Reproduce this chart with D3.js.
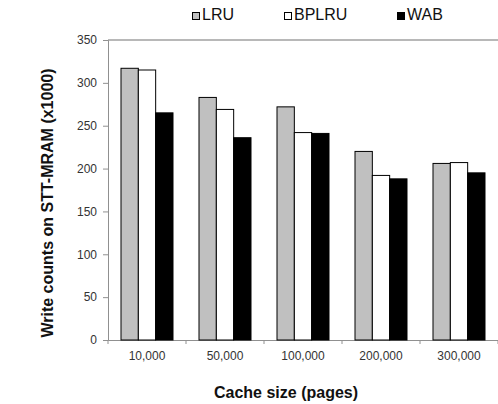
<!DOCTYPE html>
<html>
<head>
<meta charset="utf-8">
<script src="https://d3js.org/d3.v7.min.js"></script>
<style>
  body { margin: 0; background: #fff; }
  svg { font-family: "Liberation Sans", Arial, sans-serif; }
</style>
</head>
<body>
<svg width="498" height="404"></svg>
<script>
var categories = ["10,000", "50,000", "100,000", "200,000", "300,000"]
var seriesNames = ["LRU", "BPLRU", "WAB"]
var lruValues = [317, 283, 272, 220, 206]
var bplruValues = [315, 269, 242, 192, 207]
var wabValues = [265, 236, 241, 188, 195]
var yTicks = [0, 50, 100, 150, 200, 250, 300, 350]
var colors = {LRU: "#c0c0c0", BPLRU: "#ffffff", WAB: "#000000"}

function main(){
	var margin = {top: 40, right: 0, bottom: 64, left: 108};
	var svg = d3.select("svg");
	var width = svg.attr("width") - margin.left - margin.right;
	var height = svg.attr("height") - margin.top - margin.bottom;

	var canvas = svg.append("g")
	.attr("transform", "translate(" + margin.left + "," + margin.top + ")");

	var table = categories.map(function(c, i){
		return {cat: c, LRU: lruValues[i], BPLRU: bplruValues[i], WAB: wabValues[i]}
	});

	// Scales
	var x0 = d3.scaleBand().domain(categories).range([0, width]).padding(0);
	var x1 = d3.scaleBand().domain(seriesNames).range([0, x0.bandwidth()])
	.paddingInner(0).paddingOuter(0.75);
	var yScale = d3.scaleLinear().domain([0, 350]).range([height, 0]);

	// Top border line of plot area
	canvas.append("line")
	.attr("x1", 0).attr("x2", width).attr("y1", 0).attr("y2", 0)
	.attr("stroke", "#a0a0a0").attr("stroke-width", 1.5);

	// Y axis
	var yAxis = d3.axisLeft(yScale).tickValues(yTicks).tickSize(5).tickPadding(6);
	var gy = canvas.append("g").call(yAxis);
	gy.select(".domain").attr("stroke", "#909090");
	gy.selectAll(".tick line").attr("stroke", "#909090");
	gy.selectAll(".tick text").attr("font-size", 12).attr("fill", "#333")
	.attr("font-family", "Liberation Sans, Arial, sans-serif");

	// X axis
	var xAxis = d3.axisBottom(x0).tickSize(0).tickPadding(11);
	var gx = canvas.append("g").attr("transform", "translate(0," + height + ")").call(xAxis);
	gx.select(".domain").attr("stroke", "#909090");
	gx.selectAll(".tick text").attr("font-size", 12).attr("fill", "#333")
	.attr("font-family", "Liberation Sans, Arial, sans-serif");

	// category boundary ticks
	var bounds = categories.map(function(c){ return x0(c) }).concat([width]);
	gx.selectAll(".bound").data(bounds).enter().append("line")
	.attr("x1", d => d).attr("x2", d => d)
	.attr("y1", 0).attr("y2", 4)
	.attr("stroke", "#909090");

	// Bars
	var groups = canvas.selectAll(".grp").data(table).enter().append("g")
	.attr("transform", d => "translate(" + x0(d.cat) + ",0)");

	groups.selectAll("rect")
	.data(d => seriesNames.map(function(s){ return {key: s, value: d[s]} }))
	.enter().append("rect")
	.attr("x", d => x1(d.key))
	.attr("y", d => yScale(d.value))
	.attr("width", x1.bandwidth())
	.attr("height", d => height - yScale(d.value))
	.attr("fill", d => colors[d.key])
	.attr("stroke", "#000")
	.attr("stroke-width", 1);

	// Axis titles
	svg.append("text")
	.attr("x", 286).attr("y", 398)
	.attr("text-anchor", "middle")
	.attr("font-size", 16).attr("font-weight", "bold").attr("fill", "#111")
	.text("Cache size (pages)");

	svg.append("text")
	.attr("transform", "translate(53,203) rotate(-90)")
	.attr("text-anchor", "middle")
	.attr("font-size", 16).attr("font-weight", "bold").attr("fill", "#111")
	.text("Write counts on STT-MRAM (x1000)");

	// Legend
	var legendX = [192, 284, 397];
	var legend = svg.selectAll(".leg").data(seriesNames).enter().append("g")
	.attr("transform", (d, i) => "translate(" + legendX[i] + ",12)");
	legend.append("rect")
	.attr("x", 0.5).attr("y", 0.5).attr("width", 7).attr("height", 7)
	.attr("fill", d => colors[d]).attr("stroke", "#000").attr("stroke-width", 1);
	legend.append("text")
	.attr("x", 10).attr("y", 8)
	.attr("font-size", 16).attr("fill", "#111")
	.text(d => d);
}

window.onload = function() {
	main()
};
</script>
</body>
</html>
